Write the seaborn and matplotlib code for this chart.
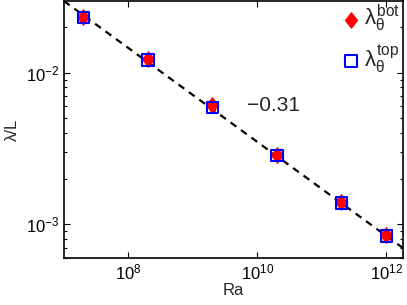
import numpy as np
import pandas as pd
import matplotlib
matplotlib.use("Agg")
import matplotlib.pyplot as plt
import seaborn as sns
from matplotlib.ticker import LogLocator, NullFormatter

# data
ra = [2e7, 2e8, 2e9, 2e10, 2e11, 1e12]
lam_bot = [0.0233, 0.0124, 0.0061, 0.00288, 0.00140, 0.00085]
lam_top = [0.0231, 0.0122, 0.0059, 0.00285, 0.00138, 0.00084]
fit_exponent = -0.31
fit_prefactor = 4.4
fit_ra = [1e7, 2e12]
fit_lam = [fit_prefactor * r ** fit_exponent for r in fit_ra]

sns.set_style("ticks")
plt.rcParams['font.family'] = ['Liberation Sans', 'DejaVu Sans']
plt.rcParams['mathtext.fontset'] = 'custom'
plt.rcParams['mathtext.rm'] = 'Liberation Sans'
plt.rcParams['mathtext.it'] = 'Liberation Sans'
plt.rcParams['mathtext.sf'] = 'Liberation Sans'

fig = plt.figure(figsize=(4.07, 3.05), dpi=100)
ax = fig.add_axes([0.157, 0.154, 0.833, 0.843])

df_fit = pd.DataFrame({"Ra": fit_ra, "lam": fit_lam})
sns.lineplot(data=df_fit, x="Ra", y="lam", ax=ax, color="black",
             linestyle=(0, (3.2, 2.6)), linewidth=1.6, zorder=2)

diamond = [(0, 1), (0.8, 0), (0, -1), (-0.8, 0), (0, 1)]

df_bot = pd.DataFrame({"Ra": ra, "lam": lam_bot})
df_top = pd.DataFrame({"Ra": ra, "lam": lam_top})
sns.scatterplot(data=df_bot, x="Ra", y="lam", ax=ax, marker=diamond, s=140,
                color="red", edgecolor="red", linewidth=0.3, zorder=3,
                label=r"$\lambda_\theta^{\mathrm{bot}}$")
sns.scatterplot(data=df_top, x="Ra", y="lam", ax=ax, marker="s", s=70,
                facecolor="none", edgecolor="blue", linewidth=1.5, zorder=4,
                label=r"$\lambda_\theta^{\mathrm{top}}$")

ax.set_xscale("log")
ax.set_yscale("log")
ax.set_xlim(1e7, 1.8e12)
ax.set_ylim(6e-4, 0.0298)

ax.xaxis.set_major_locator(LogLocator(base=100.0, numticks=10))
ax.xaxis.set_minor_locator(plt.NullLocator())
ax.yaxis.set_minor_locator(LogLocator(base=10.0, subs=np.arange(2, 10), numticks=20))
ax.yaxis.set_minor_formatter(NullFormatter())

ax.tick_params(which="both", direction="in", top=True, right=True,
               labelsize=12, width=0.8, colors="black")
ax.tick_params(which="major", length=4)
ax.tick_params(which="minor", length=2.5)
for s in ax.spines.values():
    s.set_linewidth(1.2)
    s.set_color("black")

ax.set_xlabel("Ra", fontsize=12, labelpad=0)
ax.set_ylabel("λ/L", fontsize=12, labelpad=4)

ax.text(1.8e10, 6.1e-3, "\u22120.31", fontsize=15, ha="center", va="center")

leg = ax.legend(loc="upper right", frameon=False, fontsize=16,
                handletextpad=0.0, borderaxespad=0.0, labelspacing=0.35,
                handlelength=1.2, markerscale=1.0, borderpad=0.1)

fig.savefig("out.png", dpi=100)
